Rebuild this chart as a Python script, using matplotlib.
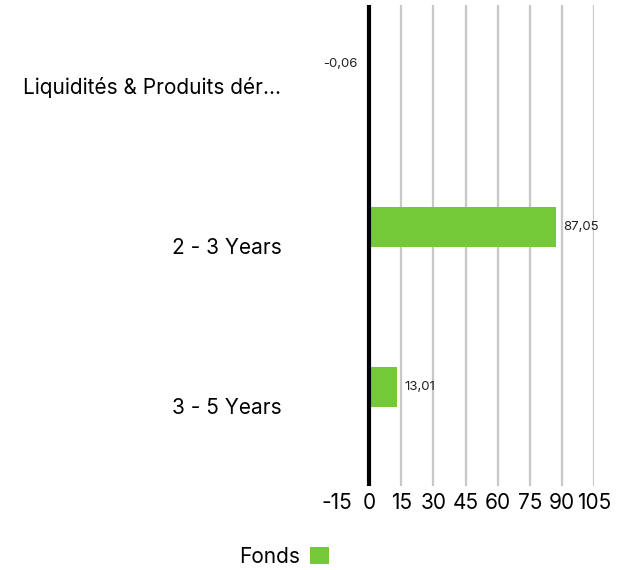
import matplotlib
matplotlib.use("Agg")
import matplotlib.pyplot as plt
from matplotlib.patches import Patch

categories = ["Liquidités & Produits dér...", "2 - 3 Years", "3 - 5 Years"]
values = [-0.06, 87.05, 13.01]
value_labels = ["-0,06", "87,05", "13,01"]
xticks = [-15, 0, 15, 30, 45, 60, 75, 90, 105]
series_name = "Fonds"
color = "#74c936"

plt.rcParams['font.family'] = ['Inter', 'DejaVu Sans']

fig = plt.figure(figsize=(6.27, 5.70), dpi=100)
ax = fig.add_axes([337/627, 1-486/570, (594-337)/627, (486-5)/570])

ypos = list(range(len(categories)))
offset = 0.115
bar_h = 0.25
bar_y = [y - offset for y in ypos]
ax.barh(bar_y, values, height=bar_h, color=color, zorder=3)

for y, v, lab in zip(bar_y, values, value_labels):
    if v >= 0:
        ax.annotate(lab, (v, y), xytext=(5.5, 0), textcoords="offset points",
                    ha="left", va="center", fontsize=9.5, color="#222222")
    else:
        ax.annotate(lab, (v, y), xytext=(-8, 2), textcoords="offset points",
                    ha="right", va="center", fontsize=9.5, color="#222222")

ax.set_xlim(-15, 105)
ax.set_ylim(2.5, -0.5)
ax.set_xticks(xticks)
ax.set_xticklabels([str(t) for t in xticks], fontsize=15)
ax.set_yticks(ypos)
ax.set_yticklabels(categories, fontsize=15)
ax.tick_params(axis='both', length=0)
ax.tick_params(axis='x', pad=5)
ax.tick_params(axis='y', pad=40)

for t in xticks:
    if t > 0:
        ax.axvline(t, color="#c8c8c8", lw=1.6, zorder=1)
ax.axvline(0, color="black", lw=3, zorder=4)

for s in ax.spines.values():
    s.set_visible(False)

handle = Patch(facecolor=color, edgecolor='none')
fig.legend([handle], [series_name], loc="center", bbox_to_anchor=(284/627, 1-557/570),
           frameon=False, markerfirst=False, fontsize=15, handlelength=0.9,
           handleheight=0.9, handletextpad=0.5)

fig.savefig("out.png", dpi=100)
